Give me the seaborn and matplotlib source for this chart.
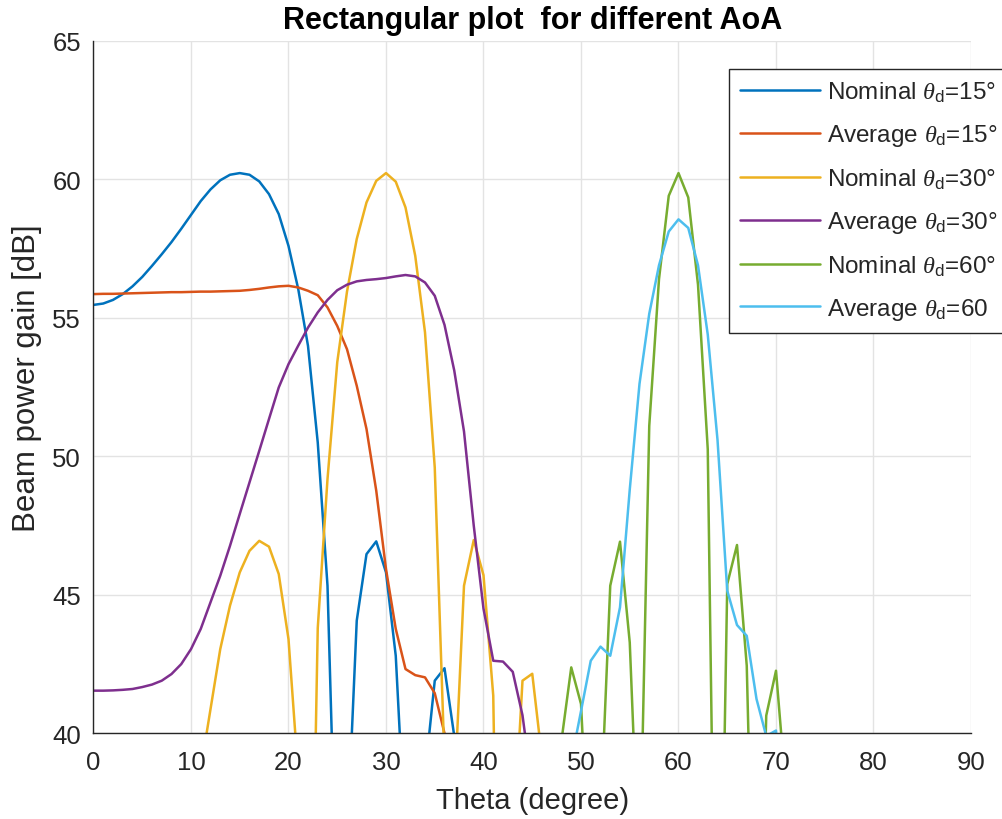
import numpy as np
import pandas as pd
import matplotlib
matplotlib.use("Agg")
import matplotlib.pyplot as plt
import seaborn as sns

# ---------------- data (dB) ----------------
theta = list(range(0, 91))

nom15 = [
    55.47, 55.52, 55.65, 55.86, 56.14, 56.48, 56.88, 57.30, 57.74, 58.22,
    58.72, 59.22, 59.64, 59.97, 60.17, 60.23, 60.17, 59.93, 59.47, 58.75,
    57.60, 56.04, 53.99, 50.50, 45.33, 33.00, 36.00, 44.07, 46.47, 46.93,
    45.81, 42.80, 36.00, 30.00, 38.50, 41.90, 42.35, 39.90, 30.00, 35.50,
    38.20, 37.00, 31.00, 34.00, 37.50, 36.80, 30.50, 33.00, 36.40, 35.90,
    30.00, 32.50, 35.60, 35.20, 29.80, 32.00, 35.00, 34.70, 29.50, 31.80,
    34.60, 34.30, 29.20, 31.50, 34.20, 33.90, 29.00, 31.30, 33.90, 33.60,
    28.80, 31.10, 33.60, 33.30, 28.60, 30.90, 33.40, 33.10, 28.40, 30.70,
    33.20, 32.90, 28.20, 30.50, 33.00, 32.70, 28.00, 30.30, 32.80, 32.50,
    32.30]

avg15 = [
    55.86, 55.87, 55.87, 55.88, 55.89, 55.90, 55.91, 55.92, 55.93, 55.93,
    55.94, 55.95, 55.95, 55.96, 55.97, 55.98, 56.01, 56.05, 56.10, 56.14,
    56.16, 56.10, 55.98, 55.82, 55.38, 54.71, 53.87, 52.55, 50.99, 48.76,
    45.93, 43.77, 42.32, 42.10, 42.02, 41.45, 40.00, 36.00, 34.00, 33.00,
    34.50, 35.20, 33.80, 32.40, 33.60, 34.10, 33.00, 31.90, 32.80, 33.40,
    32.50, 31.20, 32.10, 32.90, 32.00, 30.80, 31.60, 32.40, 31.70, 30.50,
    31.20, 32.00, 31.40, 30.20, 30.90, 31.70, 31.10, 30.00, 30.60, 31.40,
    30.90, 29.80, 30.40, 31.20, 30.70, 29.60, 30.20, 31.00, 30.50, 29.40,
    30.00, 30.80, 30.30, 29.20, 29.80, 30.60, 30.10, 29.00, 29.60, 30.40,
    30.00]

nom30 = [
    36.50, 38.00, 37.20, 33.00, 35.00, 38.60, 38.90, 35.50, 30.00, 37.00,
    35.00, 38.70, 40.87, 43.04, 44.61, 45.81, 46.59, 46.95, 46.74, 45.75,
    43.40, 38.50, 25.00, 43.80, 49.18, 53.40, 55.95, 57.85, 59.17, 59.95,
    60.23, 59.92, 58.99, 57.24, 54.48, 49.60, 39.00, 37.70, 45.33, 46.98,
    45.71, 41.36, 20.00, 35.60, 41.90, 42.15, 39.10, 30.00, 36.50, 38.40,
    37.00, 31.00, 35.50, 37.60, 36.40, 30.50, 34.80, 37.00, 36.00, 30.20,
    34.30, 36.60, 35.70, 30.00, 34.00, 36.30, 35.50, 29.80, 33.80, 36.10,
    35.30, 29.60, 33.60, 35.90, 35.20, 29.50, 33.50, 35.80, 35.10, 29.40,
    33.40, 35.70, 35.00, 29.30, 33.30, 35.60, 34.90, 29.20, 33.20, 35.50,
    34.80]

avg30 = [
    41.54, 41.54, 41.55, 41.57, 41.60, 41.67, 41.76, 41.90, 42.14, 42.50,
    43.04, 43.77, 44.73, 45.69, 46.77, 47.92, 49.06, 50.20, 51.35, 52.49,
    53.33, 54.00, 54.65, 55.20, 55.65, 56.00, 56.20, 56.32, 56.37, 56.40,
    56.44, 56.50, 56.55, 56.50, 56.28, 55.80, 54.75, 53.10, 50.90, 47.50,
    44.50, 42.62, 42.59, 42.22, 40.65, 38.00, 35.50, 36.80, 37.40, 36.20,
    34.80, 35.60, 36.30, 35.40, 34.10, 34.90, 35.70, 34.80, 33.60, 34.40,
    35.20, 34.40, 33.20, 34.00, 34.80, 34.00, 32.90, 33.70, 34.50, 33.70,
    32.60, 33.40, 34.20, 33.40, 32.40, 33.20, 34.00, 33.20, 32.20, 33.00,
    33.80, 33.00, 32.00, 32.80, 33.60, 32.80, 31.80, 32.60, 33.40, 32.60,
    31.60]

nom60 = [
    30.00, 33.50, 35.00, 32.00, 28.00, 33.00, 35.20, 33.80, 29.00, 32.50,
    35.30, 34.50, 30.50, 31.50, 35.40, 35.10, 32.00, 30.50, 35.20, 35.60,
    33.50, 29.50, 34.60, 35.90, 34.80, 28.50, 33.80, 36.10, 35.80, 30.50,
    32.50, 36.20, 36.60, 33.50, 30.00, 35.80, 37.20, 35.90, 27.00, 34.50,
    37.70, 37.40, 31.50, 31.50, 37.90, 38.60, 34.80, 35.00, 39.74, 42.38,
    41.06, 34.00, 36.90, 45.33, 46.92, 43.28, 34.50, 51.10, 56.40, 59.41,
    60.23, 59.35, 56.20, 50.26, 25.00, 45.39, 46.80, 42.44, 28.00, 40.64,
    42.26, 38.00, 25.00, 37.60, 38.90, 34.50, 30.00, 37.20, 37.80, 32.00,
    31.50, 36.80, 36.90, 29.00, 33.00, 36.40, 35.90, 27.00, 34.00, 36.10,
    35.20]

avg60 = [
    31.00, 31.20, 31.40, 31.60, 31.80, 32.00, 32.20, 32.40, 32.60, 32.80,
    33.00, 33.10, 33.20, 33.30, 33.40, 33.50, 33.60, 33.70, 33.80, 33.90,
    34.00, 34.10, 34.20, 34.30, 34.40, 34.50, 34.60, 34.70, 34.80, 34.90,
    35.00, 35.10, 35.20, 35.30, 35.40, 35.50, 35.60, 35.70, 35.80, 35.90,
    36.00, 36.20, 36.40, 36.60, 36.80, 37.00, 37.40, 37.80, 38.20, 39.00,
    40.80, 42.62, 43.13, 42.80, 44.55, 48.80, 52.62, 55.15, 56.90, 58.12,
    58.56, 58.25, 56.90, 54.40, 50.60, 45.15, 43.91, 43.52, 41.24, 39.90,
    40.10, 35.00, 34.20, 34.60, 33.80, 33.40, 33.70, 33.10, 32.80, 33.00,
    32.50, 32.20, 32.40, 32.00, 31.80, 31.90, 31.50, 31.30, 31.40, 31.10,
    31.00]

labels = [r"Nominal $\theta_{\mathrm{d}}$=15°", r"Average $\theta_{\mathrm{d}}$=15°",
          r"Nominal $\theta_{\mathrm{d}}$=30°", r"Average $\theta_{\mathrm{d}}$=30°",
          r"Nominal $\theta_{\mathrm{d}}$=60°", r"Average $\theta_{\mathrm{d}}$=60"]
colors = ["#0072BD", "#D95319", "#EDB120", "#7E2F8E", "#77AC30", "#4DBEEE"]

series = [nom15, avg15, nom30, avg30, nom60, avg60]
df = pd.concat(
    [pd.DataFrame({"theta": theta, "gain": s, "series": lab})
     for s, lab in zip(series, labels)],
    ignore_index=True)

# ---------------- style ----------------
sns.set_style("white")
plt.rcParams["font.family"] = ["Liberation Sans", "DejaVu Sans"]
plt.rcParams["mathtext.fontset"] = "custom"
plt.rcParams["mathtext.rm"] = "Liberation Sans"
plt.rcParams["mathtext.it"] = "Liberation Serif:italic"

fig = plt.figure(figsize=(10.03, 8.2), dpi=100)
ax = fig.add_axes([93.5 / 1003, 1 - 734.3 / 820, (971 - 93.5) / 1003, (734.3 - 42) / 820])

sns.lineplot(data=df, x="theta", y="gain", hue="series", hue_order=labels,
             palette=colors, estimator=None, sort=True, linewidth=1.8,
             legend=False, ax=ax)

ax.set_xlim(0, 90)
ax.set_ylim(40, 65)
ax.set_xticks(range(0, 91, 10))
ax.set_yticks(range(40, 66, 5))
ax.grid(True, color="#e3e3e3", linewidth=1.0)
ax.set_axisbelow(True)
for side in ["top", "right"]:
    ax.spines[side].set_visible(False)
for side in ["left", "bottom"]:
    ax.spines[side].set_color("#262626")
    ax.spines[side].set_linewidth(1.0)
ax.tick_params(axis="both", direction="in", length=7, width=1.0,
               color="#262626", labelcolor="#262626", labelsize=18.5)
ax.tick_params(axis="x", pad=12)
ax.tick_params(axis="y", pad=9)

ax.set_xlabel("Theta (degree)", fontsize=21, color="#262626", labelpad=9)
ax.set_ylabel("Beam power gain [dB]", fontsize=22.5, color="#262626")
ax.yaxis.set_label_coords(-0.0587, 0.515)
ax.set_title("Rectangular plot  for different AoA", fontsize=22, fontweight="bold",
             color="black", pad=9)

handles = ax.get_lines()[:6]
leg = ax.legend(handles, labels, loc="upper left",
                bbox_to_anchor=(729 / 1003, 1 - 70 / 820),
                bbox_transform=fig.transFigure, fontsize=17.5,
                frameon=True, fancybox=False, framealpha=1, edgecolor="#262626",
                handlelength=3.3, handletextpad=0.3, labelspacing=0.75,
                borderpad=0.45, borderaxespad=0)
leg.get_frame().set_linewidth(1.0)

fig.savefig("out.png", dpi=100)
